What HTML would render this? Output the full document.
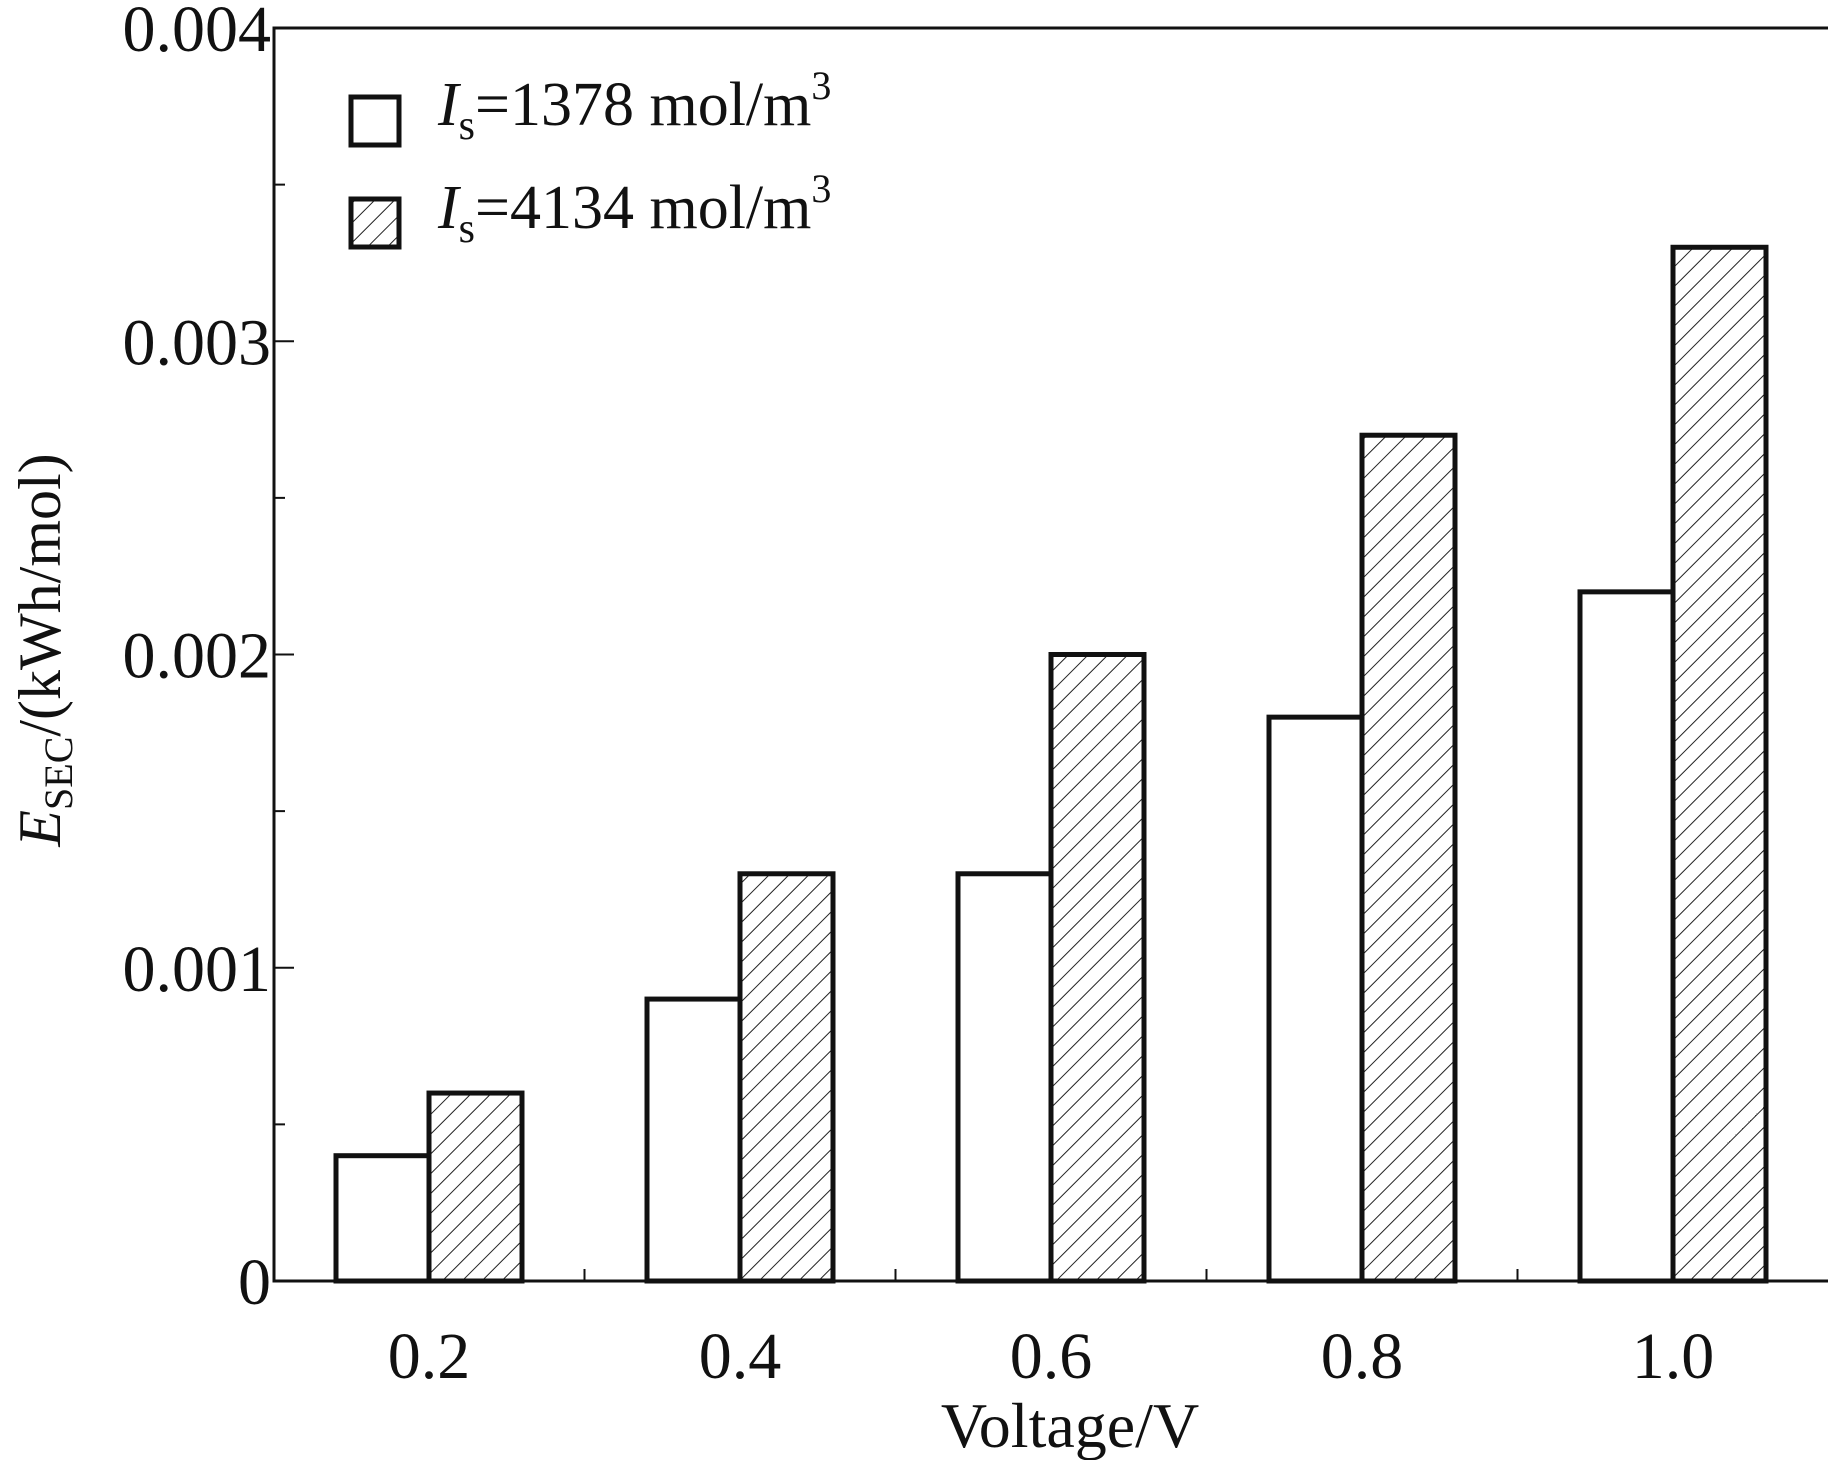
<!DOCTYPE html>
<html><head><meta charset="utf-8"><style>
html,body{margin:0;padding:0;background:#fff}
svg text{font-family:"Liberation Serif",serif;fill:#111}
</style></head><body>
<svg id="chart" width="1831" height="1460" viewBox="0 0 1831 1460" xmlns="http://www.w3.org/2000/svg">
<defs>
<pattern id="hatch" patternUnits="userSpaceOnUse" width="14" height="14" patternTransform="rotate(45)">
<rect width="14" height="14" fill="#fff"/>
<line x1="0" y1="0" x2="0" y2="14" stroke="#222" stroke-width="2"/>
</pattern>
</defs>
<g id="plot"></g>
<g>
<rect x="351" y="97" width="48" height="48" fill="#fff" stroke="#111" stroke-width="5"/>
<text x="438" y="125" font-size="62"><tspan font-style="italic">I</tspan><tspan font-size="42" dy="14">s</tspan><tspan dy="-14">=1378 mol/m</tspan><tspan font-size="40" dy="-26">3</tspan></text>
<rect x="351" y="199" width="48" height="48" fill="url(#hatch)" stroke="#111" stroke-width="5"/>
<text x="438" y="228" font-size="62"><tspan font-style="italic">I</tspan><tspan font-size="42" dy="14">s</tspan><tspan dy="-14">=4134 mol/m</tspan><tspan font-size="40" dy="-26">3</tspan></text>
</g>
<text x="1070" y="1447" font-size="64" text-anchor="middle">Voltage/V</text>
<text transform="translate(60,650) rotate(-90)" font-size="60" text-anchor="middle"><tspan font-style="italic">E</tspan><tspan font-size="40" dy="12">SEC</tspan><tspan dy="-12">/(kWh/mol)</tspan></text>
</svg>
<script>
const categories = ["0.2","0.4","0.6","0.8","1.0"];
const seriesLow = [0.0004,0.0009,0.0013,0.0018,0.0022];
const seriesHigh = [0.0006,0.0013,0.0020,0.0027,0.0033];
const yTicks = [0,0.001,0.002,0.003,0.004];
const yTickLabels = ["0","0.001","0.002","0.003","0.004"];

const L=274,R=1828,T=28,B=1281,yMax=0.004;
const groupW=311, firstC=429, barW=93;
function yS(v){return B-(v/yMax)*(B-T);}
function xC(i){return firstC+i*groupW;}
const NS="http://www.w3.org/2000/svg";
const g=document.getElementById('plot');
function mk(t,a){const e=document.createElementNS(NS,t);for(const k in a)e.setAttribute(k,a[k]);g.appendChild(e);return e;}

categories.forEach((c,i)=>{
  const x=xC(i);
  let r=mk('rect',{x:x-barW,y:yS(seriesLow[i]),width:barW,height:B-yS(seriesLow[i]),fill:'#fff',stroke:'#111','stroke-width':5});
  
  
  let h=mk('rect',{x:x,y:yS(seriesHigh[i]),width:barW,height:B-yS(seriesHigh[i]),fill:'url(#hatch)',stroke:'#111','stroke-width':5});
  
  
  let t=mk('text',{x:x,y:1378,'font-size':66,'text-anchor':'middle'});
  t.textContent=c;
  
  
  if(i<categories.length-1){
    let tk=mk('line',{x1:x+groupW/2,x2:x+groupW/2,y1:B,y2:B-12,stroke:'#111','stroke-width':2});
    
    
  }
});
yTicks.forEach((v,i)=>{
  const y=yS(v);
  let tk=mk('line',{x1:L,x2:L+20,y1:y,y2:y,stroke:'#111','stroke-width':2});
  
  
  if(i<yTicks.length-1){
    const ym=yS(v+0.0005);
    let mt=mk('line',{x1:L,x2:L+11,y1:ym,y2:ym,stroke:'#111','stroke-width':2});
    
    
  }
  let t=mk('text',{x:271,y:y+23,'font-size':66,'text-anchor':'end'});
  t.textContent=yTickLabels[i];
  
  
});
let ax=mk('path',{d:`M${R},${T}H${L}V${B}H${R}`,fill:'none',stroke:'#111','stroke-width':3});


</script>
</body></html>
